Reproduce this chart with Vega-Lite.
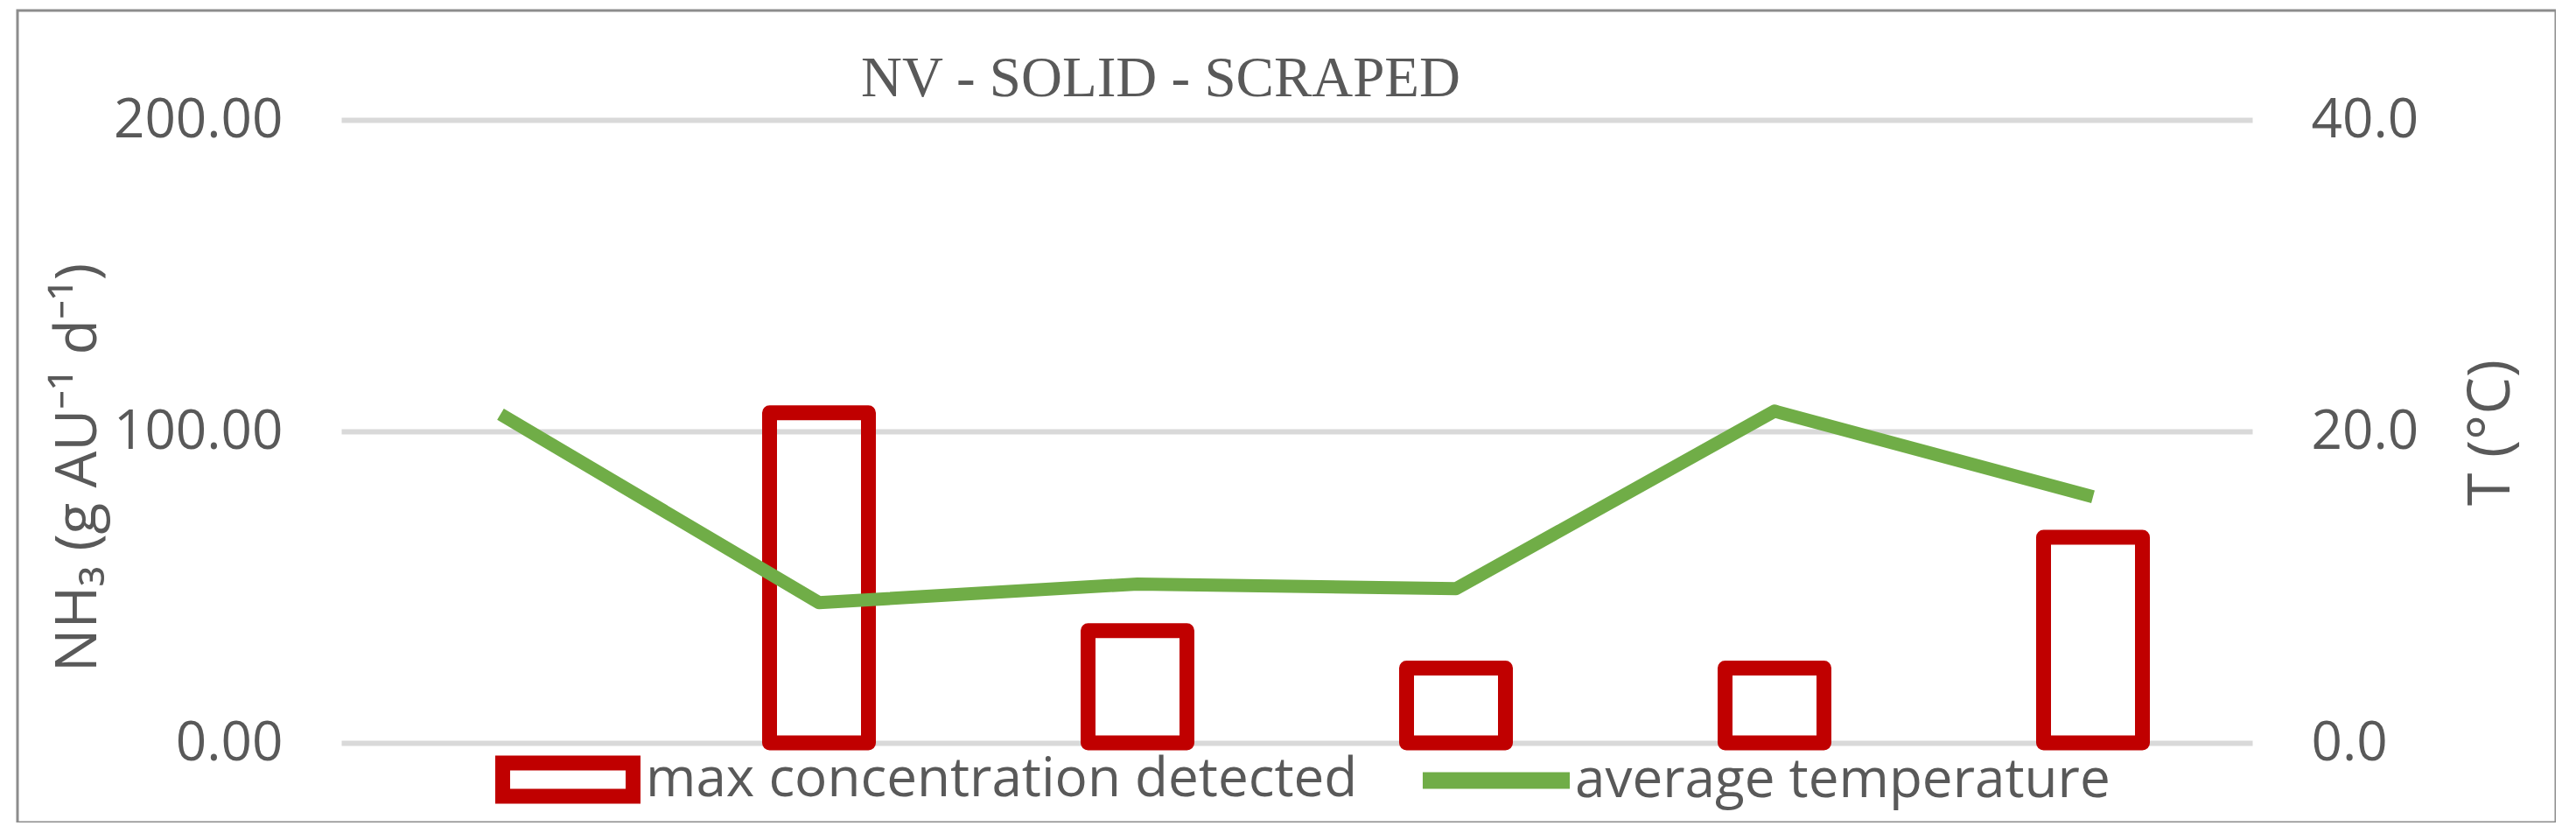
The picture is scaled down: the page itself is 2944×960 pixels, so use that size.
{
  "$schema": "https://vega.github.io/schema/vega-lite/v6.json",
  "autosize": "none",
  "padding": {"left": 20, "top": 12, "right": 0, "bottom": 0},
  "width": 2901,
  "height": 928,
  "background": "white",
  "title": {
    "text": "NV - SOLID - SCRAPED",
    "font": "Liberation Serif",
    "fontSize": 65,
    "fontWeight": "normal",
    "color": "#595959",
    "anchor": "middle",
    "frame": "group",
    "baseline": "alphabetic",
    "dx": -144,
    "offset": -163
  },
  "data": {
    "values": [
      {"cat": "c1", "nh3": null, "temp": 21.1},
      {"cat": "c2", "nh3": 106, "temp": 9.0},
      {"cat": "c3", "nh3": 36, "temp": 10.2},
      {"cat": "c4", "nh3": 24, "temp": 9.9},
      {"cat": "c5", "nh3": 24, "temp": 21.3},
      {"cat": "c6", "nh3": 66, "temp": 15.8}
    ]
  },
  "encoding": {
    "x": {
      "field": "cat",
      "type": "nominal",
      "sort": null,
      "axis": null,
      "scale": {"type": "band", "domain": ["c1", "c2", "c3", "c4", "c5", "c6"], "range": [370, 2554], "paddingInner": 0, "paddingOuter": 0}
    }
  },
  "layer": [
    {
      "mark": {"type": "bar", "size": 113, "strokeWidth": 17, "fill": "transparent", "strokeJoin": "round"},
      "encoding": {
        "y": {
          "field": "nh3",
          "type": "quantitative",
          "scale": {"domain": [0, 200], "range": [837, 125], "nice": false},
          "axis": {
            "title": "NH₃ (g AU⁻¹ d⁻¹)",
            "values": [0, 100, 200],
            "format": ".2f",
            "offset": -303,
            "ticks": false,
            "tickSize": 0,
            "domain": false,
            "labelPadding": 0,
            "labelLimit": 600,
            "labelFont": "Open Sans",
            "labelFontSize": 62,
            "labelColor": "#595959",
            "grid": true,
            "gridColor": "#d9d9d9",
            "gridWidth": 6,
            "titleFont": "Open Sans",
            "titleFontSize": 66,
            "titleFontWeight": "normal",
            "titleColor": "#595959",
            "titleAngle": 270,
            "titleAlign": "center",
            "titleBaseline": "middle",
            "titleX": -234,
            "titleY": 522
          }
        },
        "stroke": {
          "datum": "max concentration detected",
          "type": "nominal",
          "scale": {"domain": ["max concentration detected"], "range": ["#c00000"]},
          "legend": {
            "title": null,
            "orient": "none",
            "legendX": 546,
            "legendY": 796,
            "direction": "horizontal",
            "symbolType": "M-1,-0.255H1V0.255H-1Z",
            "symbolSize": 22201,
            "symbolStrokeWidth": 17,
            "symbolFillColor": "transparent",
            "symbolOpacity": 1,
            "labelFont": "Open Sans",
            "labelFontSize": 62,
            "labelColor": "#595959",
            "labelOffset": 6,
            "labelLimit": 2000
          }
        }
      }
    },
    {
      "mark": {"type": "line", "strokeWidth": 15, "strokeJoin": "round", "strokeCap": "butt"},
      "encoding": {
        "y": {
          "field": "temp",
          "type": "quantitative",
          "scale": {"domain": [0, 40], "range": [837, 125], "nice": false},
          "axis": {
            "title": "T (°C)",
            "orient": "right",
            "values": [0, 20, 40],
            "format": ".1f",
            "offset": -280,
            "ticks": false,
            "tickSize": 0,
            "domain": false,
            "labelPadding": 0,
            "labelAlign": "left",
            "labelLimit": 600,
            "labelFont": "Open Sans",
            "labelFontSize": 62,
            "labelColor": "#595959",
            "grid": false,
            "titleFont": "Open Sans",
            "titleFontSize": 68,
            "titleFontWeight": "normal",
            "titleColor": "#595959",
            "titleAngle": 270,
            "titleAlign": "center",
            "titleBaseline": "middle",
            "titleX": 206,
            "titleY": 482
          }
        },
        "stroke": {
          "datum": "average temperature",
          "type": "nominal",
          "scale": {"domain": ["average temperature"], "range": ["#70ad47"]},
          "legend": {
            "title": null,
            "orient": "none",
            "legendX": 1606,
            "legendY": 796,
            "direction": "horizontal",
            "symbolType": "M-1.128,0H1.128",
            "symbolSize": 22201,
            "symbolStrokeWidth": 19,
            "symbolFillColor": "transparent",
            "symbolOpacity": 1,
            "labelFont": "Open Sans",
            "labelFontSize": 62,
            "labelColor": "#595959",
            "labelOffset": 6,
            "labelLimit": 2000
          }
        }
      }
    }
  ],
  "resolve": {
    "scale": {"y": "independent", "stroke": "independent"},
    "legend": {"stroke": "independent"}
  },
  "config": {
    "view": {"stroke": "#8c8c8c", "strokeWidth": 3}
  }
}
